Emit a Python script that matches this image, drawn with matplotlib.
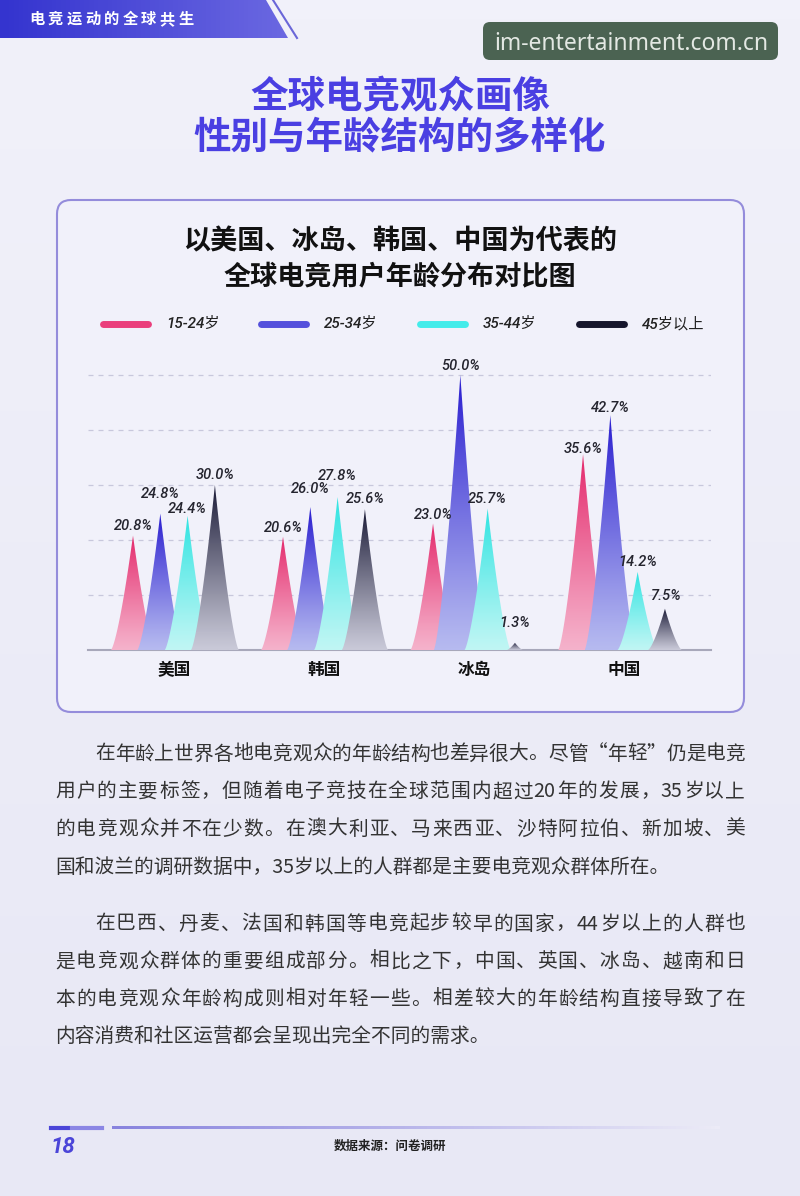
import re
import numpy as np
import matplotlib
matplotlib.use('Agg')
import matplotlib.pyplot as plt
from matplotlib.patches import Polygon, FancyBboxPatch
from matplotlib.colors import LinearSegmentedColormap
from matplotlib.textpath import TextToPath
from matplotlib.font_manager import FontProperties

plt.rcParams['font.family'] = ['Noto Sans CJK SC', 'DejaVu Sans']

# data
countries = ['美国', '韩国', '冰岛', '中国']
series_names = ['15-24岁', '25-34岁', '35-44岁', '45岁以上']
age_15_24 = [20.8, 20.6, 23.0, 35.6]
age_25_34 = [24.8, 26.0, 50.0, 42.7]
age_35_44 = [24.4, 27.8, 25.7, 14.2]
age_45_up = [30.0, 25.6, 1.3, 7.5]
grid_values = [10, 20, 30, 40, 50]

# label nudges (per series, per country), in % units above the tip
label_dy = [[1.7, 1.5, 1.6, 1.0],
            [3.6, 3.3, 1.6, 1.3],
            [1.2, 3.9, 1.8, 1.8],
            [1.9, 1.8, 3.6, 2.3]]

tip_colors = ['#e42a6c', '#2a1ed0', '#2fe4e2', '#1c1c38']
base_colors = ['#f5b2cb', '#b6baf0', '#c0f6f4', '#c9c9d8']
legend_colors = ['#ea3f7c', '#5450dc', '#43ecea', '#16162c']

page_title = ['全球电竞观众画像', '性别与年龄结构的多样化']
chart_title = ['以美国、冰岛、韩国、中国为代表的', '全球电竞用户年龄分布对比图']
para1 = ['在年龄上世界各地电竞观众的年龄结构也差异很大。尽管“年轻”仍是电竞',
         '用户的主要标签，但随着电子竞技在全球范围内超过20年的发展，35岁以上',
         '的电竞观众并不在少数。在澳大利亚、马来西亚、沙特阿拉伯、新加坡、美',
         '国和波兰的调研数据中，35岁以上的人群都是主要电竞观众群体所在。']
para2 = ['在巴西、丹麦、法国和韩国等电竞起步较早的国家，44岁以上的人群也',
         '是电竞观众群体的重要组成部分。相比之下，中国、英国、冰岛、越南和日',
         '本的电竞观众年龄构成则相对年轻一些。相差较大的年龄结构直接导致了在',
         '内容消费和社区运营都会呈现出完全不同的需求。']

num_font = ['Roboto', 'Noto Sans CJK SC']

fig = plt.figure(figsize=(8, 11.96), dpi=100)
fig.patch.set_facecolor('#ededf7')

# page background, pixel coordinates
bg = fig.add_axes([0, 0, 1, 1])
bg.set_xlim(0, 800)
bg.set_ylim(1196, 0)
bg.axis('off')
bgcm = LinearSegmentedColormap.from_list('bg', ['#f1f1fa', '#e8e8f5'])
bg.imshow(np.linspace(0, 1, 64).reshape(-1, 1), extent=[0, 800, 1196, 0],
          cmap=bgcm, aspect='auto', zorder=0)

# header band
band = Polygon([[0, 0], [266, 0], [288, 38], [0, 38]], closed=True, fc='none', ec='none')
bg.add_patch(band)
bandcm = LinearSegmentedColormap.from_list('band', ['#3434cf', '#6d6ae2'])
im = bg.imshow(np.linspace(0, 1, 64).reshape(1, -1), extent=[0, 300, 38, 0],
               cmap=bandcm, aspect='auto', zorder=1)
im.set_clip_path(band)
bg.plot([273, 297], [0, 38], color='#6a66d8', lw=1.5, zorder=1)
for i, ch in enumerate('电竞运动的全球共生'):
    bg.text(37 + i * 18.6, 19, ch, color='white', fontsize=11, fontweight='bold',
            ha='center', va='center', zorder=2)

# watermark
bg.add_patch(FancyBboxPatch((483, 22), 295, 38, boxstyle='round,pad=0,rounding_size=7',
                            fc='#4b6352', ec='none', zorder=2))
bg.text(631, 44, 'im-entertainment.com.cn', color='#e3e8e3', fontsize=16.5,
        family='Noto Sans', ha='center', va='center', zorder=3)

# page title
for i, line in enumerate(page_title):
    bg.text(400, 97 + i * 40, line, color='#4a3fe2', fontsize=27, fontweight='bold',
            ha='center', va='center', zorder=2)

# chart box
bg.add_patch(FancyBboxPatch((57, 200), 687, 512, boxstyle='round,pad=0,rounding_size=14',
                            fc='#f1f1fa', ec='#948cdb', lw=1.5, zorder=1))
for i, line in enumerate(chart_title):
    bg.text(400, 241 + i * 35, line, color='#111111', fontsize=19.5, fontweight='bold',
            ha='center', va='center', zorder=2)

# legend
leg_x = [100, 258, 417, 576]
for i, name in enumerate(series_names):
    bg.plot([leg_x[i] + 3, leg_x[i] + 48], [324, 324], color=legend_colors[i], lw=5,
            solid_capstyle='round', zorder=2)
    bg.text(leg_x[i] + 66, 324, name, fontsize=11, color='#222222', style='italic',
            fontweight='medium', family=num_font, ha='left', va='center', zorder=2)

# chart area
px_per_pct = 5.5
ax = fig.add_axes([88 / 800, (1196 - 650) / 1196, 623 / 800, 300 / 1196])
ax.patch.set_alpha(0)
ax.set_zorder(3)
for s in ['top', 'right', 'left']:
    ax.spines[s].set_visible(False)
ax.spines['bottom'].set_color('#a8a8ba')
ax.spines['bottom'].set_linewidth(1.5)
ax.set_xticks([])
ax.set_yticks([])

xmin, xmax = -0.573, 3.58
ax.hlines(grid_values, xmin, xmax, colors='#c8c8dc', linestyles=(0, (4, 4)), lw=0.9, zorder=1)

series = [age_15_24, age_25_34, age_35_44, age_45_up]
offsets = [-0.273, -0.091, 0.091, 0.273]
grad = np.linspace(0, 1, 256).reshape(-1, 1)
u = np.linspace(-1, 1, 301)
for gi in range(len(countries)):
    for si, vals in enumerate(series):
        h = vals[gi]
        x0 = gi + offsets[si]
        w = (6.7 + 5.07 * np.log(h)) / 150
        pts = np.column_stack([x0 + u * w, h * (1 - np.abs(u)) ** 1.4])
        poly = Polygon(pts, closed=True, fc='none', ec='none')
        ax.add_patch(poly)
        cmap = LinearSegmentedColormap.from_list('s%d' % si, [base_colors[si], tip_colors[si]])
        img = ax.imshow(grad ** 1.1, extent=[x0 - w, x0 + w, 0, h], origin='lower',
                        cmap=cmap, aspect='auto', zorder=3 + si)
        img.set_clip_path(poly)
        ax.text(x0, h + label_dy[si][gi], '%.1f%%' % h, fontsize=10.5, style='italic',
                fontweight='medium', family=num_font, color='#24242e',
                ha='center', va='center', zorder=10)
    ax.text(gi, -3.6, countries[gi], fontsize=12, fontweight='bold', color='#111111',
            ha='center', va='center')

ax.set_xlim(xmin, xmax)
ax.set_ylim(0, 300 / px_per_pct)

# body text, justified like the page
body_prop = FontProperties(family=['Noto Sans CJK SC', 'DejaVu Sans'], size=14.2)
ttp = TextToPath()


def tok_width(tok):
    w, _, _ = ttp.get_text_width_height_descent(tok, body_prop, ismath=False)
    return w * 100 / 72


def draw_para(lines, y0):
    for i, line in enumerate(lines):
        x_start = 95 if i == 0 else 55
        y = y0 + i * 37.7
        if i == len(lines) - 1:
            bg.text(x_start, y, line, fontproperties=body_prop, color='#333333',
                    ha='left', va='center', zorder=2)
            continue
        toks = re.findall(r'\d+|.', line)
        widths = [tok_width(t) for t in toks]
        gap = (745 - x_start - sum(widths)) / (len(toks) - 1)
        x = x_start
        for t, wd in zip(toks, widths):
            bg.text(x, y, t, fontproperties=body_prop, color='#333333',
                    ha='left', va='center', zorder=2)
            x += wd + gap


draw_para(para1, 754)
draw_para(para2, 924)

# footer
bg.plot([51, 68], [1128, 1128], color='#4b45d8', lw=3, zorder=2)
bg.plot([72, 102], [1128, 1128], color='#8b86e4', lw=3, zorder=2)
footcm = LinearSegmentedColormap.from_list('ft', ['#8883de', '#ecebf7'])
bg.imshow(np.linspace(0, 1, 128).reshape(1, -1), extent=[112, 720, 1129.5, 1126.5],
          cmap=footcm, aspect='auto', zorder=2)
bg.text(50, 1147, '18', fontsize=16, fontweight='bold', style='italic', color='#4b45d8',
        family=num_font, ha='left', va='center', zorder=2)
bg.text(390, 1146, '数据来源：问卷调研', fontsize=9, fontweight='bold',
        color='#222222', ha='center', va='center', zorder=2)

fig.savefig('out.png', dpi=100, facecolor=fig.get_facecolor())
